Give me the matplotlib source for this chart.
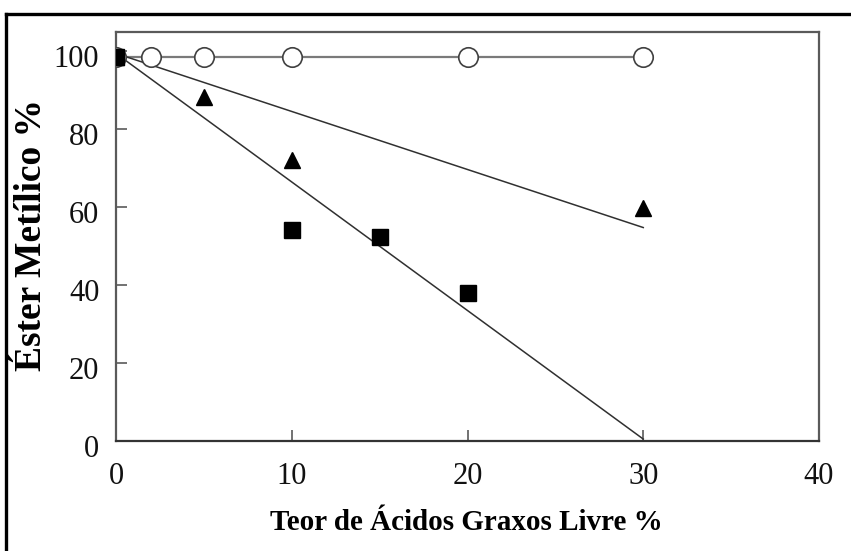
import matplotlib
matplotlib.use("Agg")
import matplotlib.pyplot as plt
from matplotlib.lines import Line2D
from matplotlib.transforms import ScaledTranslation

# Data
circ_x = [0, 2, 5, 10, 20, 30]
circ_y = [98.5, 98.5, 98.5, 98.5, 98.5, 98.5]

tri_x = [0, 5, 10, 30]
tri_y = [98.5, 88.4, 72.2, 59.9]

sq_x = [0, 10, 15, 20]
sq_y = [98.5, 54.2, 52.4, 38.0]

tri_fit_x = [0, 30]
tri_fit_y = [99.5, 54.8]
sq_fit_x = [0, 30]
sq_fit_y = [99.5, 0.5]

x_ticks = [0, 10, 20, 30, 40]
y_ticks = [0, 20, 40, 60, 80, 100]

xlabel = "Teor de Ácidos Graxos Livre %"
ylabel = "Éster Metílico %"

plt.rcParams['font.family'] = ['Liberation Serif', 'DejaVu Serif']

W, H = 851, 551
fig = plt.figure(figsize=(W / 100, H / 100), dpi=100)
ax = fig.add_axes([116 / W, (H - 441) / H, (819 - 116) / W, (441 - 32) / H])

spine_col = '#5a5a5a'
ax.plot(circ_x, circ_y, color='#7a7a7a', lw=1.6, zorder=2)
ax.plot(tri_fit_x, tri_fit_y, color='#303030', lw=1.1, zorder=2)
ax.plot(sq_fit_x, sq_fit_y, color='#303030', lw=1.1, zorder=2)
ax.plot(circ_x, circ_y, ls='none', marker='o', ms=14, mfc='white',
        mec='#404040', mew=1.2, zorder=3)
ax.plot(tri_x, tri_y, ls='none', marker='^', ms=11, mfc='black',
        mec='black', zorder=4)
ax.plot(sq_x, sq_y, ls='none', marker='s', ms=11.5, mfc='black',
        mec='black', zorder=5)

ax.set_xlim(0, 40)
ax.set_ylim(0, 105)
ax.set_xticks(x_ticks)
ax.set_yticks(y_ticks)
ax.tick_params(direction='in', length=8, width=1.2, color=spine_col,
               labelsize=22, top=False, right=False)
ax.tick_params(axis='y', pad=12)
ax.tick_params(axis='x', pad=15)
shift = ScaledTranslation(0, -5 / 100, fig.dpi_scale_trans)
for lab in ax.get_yticklabels():
    lab.set_color('#111111')
    lab.set_transform(lab.get_transform() + shift)
for lab in ax.get_xticklabels():
    lab.set_color('#111111')

for s in ax.spines.values():
    s.set_color(spine_col)
    s.set_linewidth(1.6)
ax.spines['bottom'].set_color('#333333')

fig.text(466 / W, 1 - 522 / H, xlabel, ha='center', va='center',
         fontsize=21, fontweight='bold')
fig.text(32 / W, 1 - 235 / H, ylabel, ha='center', va='center',
         fontsize=27, fontweight='bold', rotation=90)

# outer frame (left and top edges visible)
fig.add_artist(Line2D([6 / W, 6 / W], [0, 1 - 14 / H], transform=fig.transFigure,
                      color='black', lw=2.4))
fig.add_artist(Line2D([6 / W, 1], [1 - 14 / H, 1 - 14 / H], transform=fig.transFigure,
                      color='black', lw=2.4))

fig.savefig("out.png", dpi=100)
